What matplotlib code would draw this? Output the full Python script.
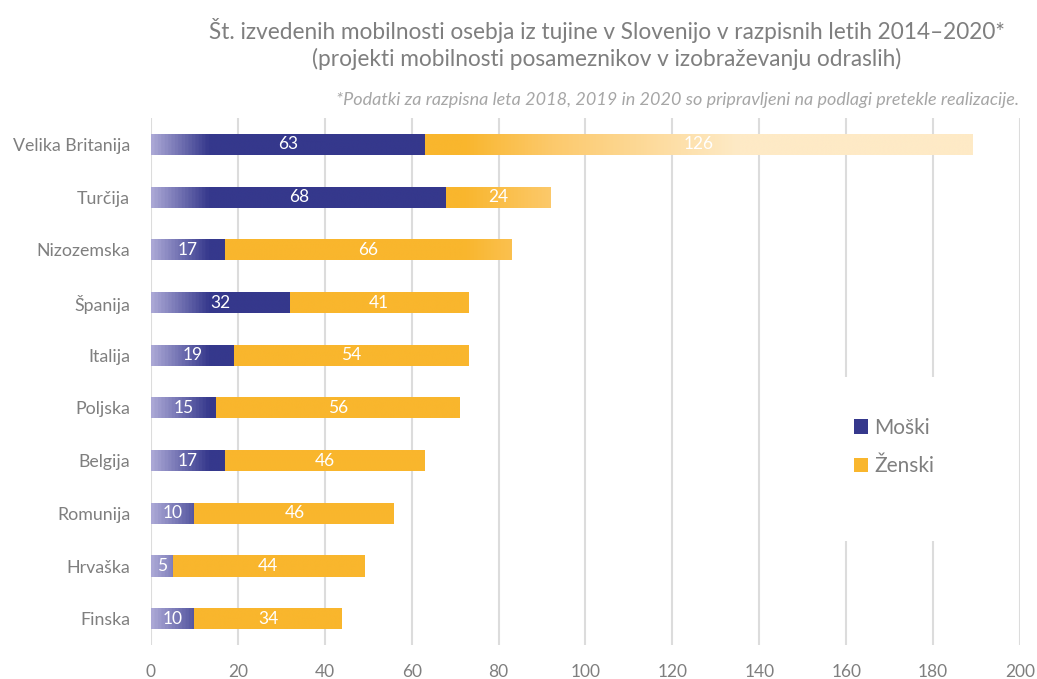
import numpy as np
import matplotlib.pyplot as plt
from matplotlib.colors import LinearSegmentedColormap
from matplotlib.patches import Rectangle

plt.rcParams['font.family'] = ['Lato', 'DejaVu Sans']

countries = ["Velika Britanija", "Turčija", "Nizozemska", "Španija", "Italija",
             "Poljska", "Belgija", "Romunija", "Hrvaška", "Finska"]
moski = [63, 68, 17, 32, 19, 15, 17, 10, 5, 10]
zenski = [126, 24, 66, 41, 54, 56, 46, 46, 44, 34]

title = ("Št. izvedenih mobilnosti osebja iz tujine v Slovenijo v razpisnih letih 2014–2020*\n"
         "(projekti mobilnosti posameznikov v izobraževanju odraslih)")
note = "*Podatki za razpisna leta 2018, 2019 in 2020 so pripravljeni na podlagi pretekle realizacije."

BLUE = "#35388c"
YELLOW = "#f9b62d"
GREY = "#7f7f7f"
XMAX = 200

# gradients in data space (x from 0 to XMAX)
blue_cmap = LinearSegmentedColormap.from_list(
    "b", [(0, "#aaa7d5"), (13 / XMAX, BLUE), (1, BLUE)])
yel_cmap = LinearSegmentedColormap.from_list(
    "y", [(0, YELLOW), (72 / XMAX, YELLOW), (92 / XMAX, "#fcc96b"),
          (135 / XMAX, "#feeac6"), (1, "#feeac6")])
grad = np.linspace(0, 1, 4000).reshape(1, -1)

fig = plt.figure(figsize=(10.37, 6.79), dpi=100)
ax = fig.add_axes([0.1456, 0.050, 0.838, 0.776])

y = np.arange(len(countries))
h = 0.40
b1 = ax.barh(y, moski, height=h, color=BLUE, zorder=2, label="Moški")
b2 = ax.barh(y, zenski, left=moski, height=h, color=YELLOW, zorder=2, label="Ženski")

for bars, cmap in ((b1, blue_cmap), (b2, yel_cmap)):
    for p in bars:
        p.set_facecolor("none")
        p.set_edgecolor("none")
        y0 = p.get_y()
        im = ax.imshow(grad, cmap=cmap, extent=[0, XMAX, y0, y0 + h],
                       aspect="auto", zorder=2, interpolation="bilinear")
        im.set_clip_path(p)

for i in range(len(countries)):
    ax.text(moski[i] / 2, y[i], str(moski[i]), ha="center", va="center",
            color="white", fontsize=12.5, zorder=3)
    ax.text(moski[i] + zenski[i] / 2, y[i], str(zenski[i]), ha="center",
            va="center", color="white", fontsize=12.5, zorder=3)

ax.set_xlim(0, XMAX)
ax.set_ylim(len(countries) - 0.5, -0.5)
ax.set_xticks(np.arange(0, XMAX + 1, 20))
ax.set_yticks(y)
ax.set_yticklabels(countries)
ax.tick_params(axis="y", length=0, pad=15, labelsize=12.8, labelcolor=GREY)
ax.tick_params(axis="x", length=0, pad=14, labelsize=12.5, labelcolor=GREY)
ax.xaxis.grid(True, color="#dcdcdc", linewidth=1.5, zorder=0)
ax.set_axisbelow(True)
for s in ax.spines.values():
    s.set_visible(False)

# white area behind the legend
ax.add_patch(Rectangle((0.785, 0.197), 0.185, 0.311, transform=ax.transAxes,
                       facecolor="white", edgecolor="none", zorder=1))
leg = ax.legend(handles=[b1, b2], loc="center left", bbox_to_anchor=(0.787, 0.376),
                frameon=False, fontsize=15, handlelength=0.7, handleheight=0.7,
                handletextpad=0.3, labelspacing=0.9)
leg.legend_handles[0].set_facecolor(BLUE)
leg.legend_handles[1].set_facecolor(YELLOW)
for t in leg.get_texts():
    t.set_color(GREY)

fig.text(0.585, 0.935, title, ha="center", va="center", fontsize=16.3,
         color=GREY, linespacing=1.3)
fig.text(0.983, 0.852, note, ha="right", va="center", fontsize=13,
         color="#a6a6a6", style="italic")

plt.savefig("out.png", dpi=100)
